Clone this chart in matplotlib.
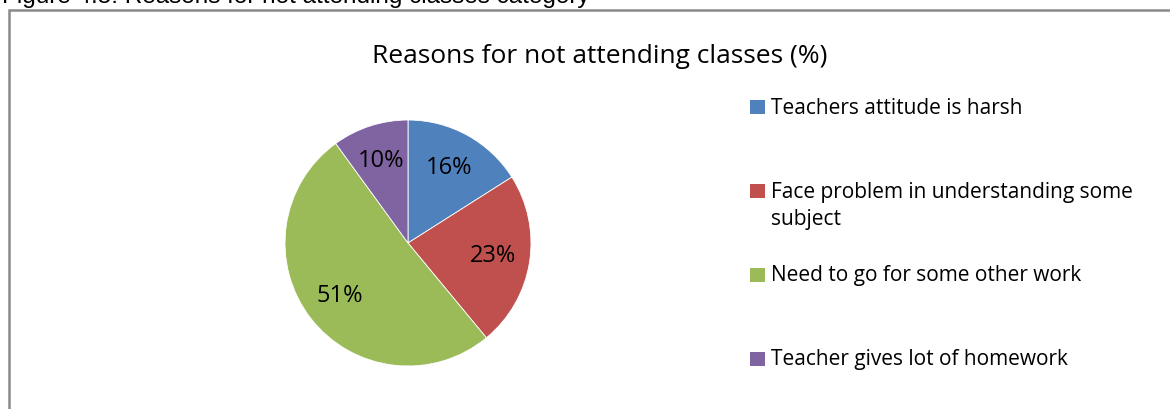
import matplotlib
matplotlib.use("Agg")
import matplotlib.pyplot as plt
from matplotlib.patches import Rectangle

# Data
categories = [
    "Teachers attitude is harsh",
    "Face problem in understanding some\nsubject",
    "Need to go for some other work",
    "Teacher gives lot of homework",
]
shares = [16, 23, 51, 10]
colors = ["#4F81BD", "#C0504D", "#9BBB59", "#8064A2"]
title = "Reasons for not attending classes (%)"
caption = "Figure 4.5: Reasons for not attending classes category"

W, H = 1170, 409
DPI = 100
fig = plt.figure(figsize=(W / DPI, H / DPI), dpi=DPI)
fig.patch.set_facecolor("white")
FONT = ["Open Sans", "DejaVu Sans"]


def px(x, y):
    """Pixel coordinates (from top-left) to figure fraction."""
    return x / W, 1 - y / H


# Chart frame (extends past the right and bottom edges)
frame = Rectangle(px(9, 409 + 10), (W + 20) / W, (409 + 10 - 9.5) / H,
                  transform=fig.transFigure, fill=False,
                  edgecolor="#8a8a8a", linewidth=1.8)
fig.patches.append(frame)

# Caption running off the top edge of the page
fig.text(*px(590, 2.5), caption, fontsize=17.5,
         family=["Liberation Sans", "DejaVu Sans"], va="baseline",
         ha="right", color="black")

# Title
fig.text(*px(600, 63), title, fontsize=19, family=FONT, ha="center",
         va="baseline", color="black")

# Pie
cx, cy, r = 408, 243, 123
ax = fig.add_axes([(cx - r) / W, (H - cy - r) / H, 2 * r / W, 2 * r / H])
wedges, texts, autotexts = ax.pie(
    shares, colors=colors, startangle=90, counterclock=False,
    autopct=lambda p: f"{p:.0f}%", pctdistance=0.70,
    wedgeprops=dict(edgecolor="white", linewidth=0.6),
    textprops=dict(fontsize=17, family=FONT, color="black"),
    radius=1.0,
)
ax.set_xlim(-1, 1)
ax.set_ylim(-1, 1)
ax.set_aspect("equal")
ax.axis("off")

# Legend (manual layout, one row per category); baseline is that of the
# last line of each label
row_y = [107, 191, 275, 359]
baselines = [114, 225, 281, 365]
for label, col, y, b in zip(categories, colors, row_y, baselines):
    sq = Rectangle(px(750, y + 7), 15 / W, 14 / H, transform=fig.transFigure,
                   facecolor=col, edgecolor="none")
    fig.patches.append(sq)
    fig.text(*px(771, b), label, fontsize=15, family=FONT, ha="left",
             va="baseline", color="black", linespacing=1.4)

fig.savefig("out.png", dpi=DPI)
